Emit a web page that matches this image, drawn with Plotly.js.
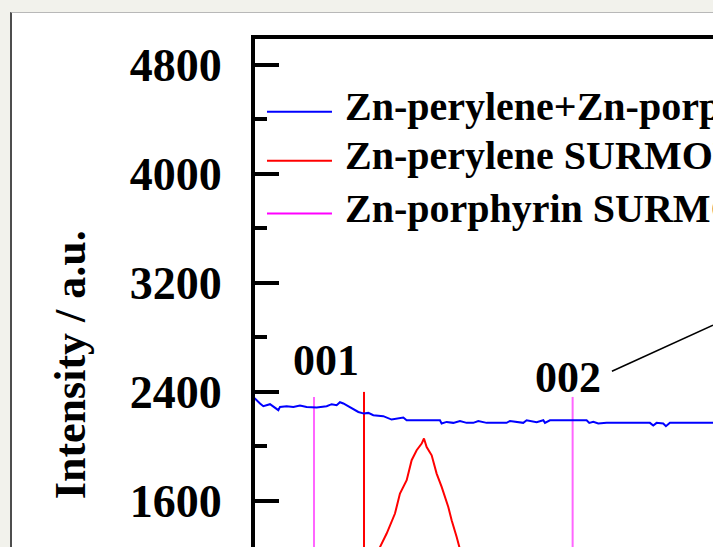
<!DOCTYPE html>
<html>
<head>
<meta charset="utf-8">
<script src="https://cdn.plot.ly/plotly-3.0.1.min.js"></script>
<style>
  html, body { margin:0; padding:0; background:#f2f2ec; width:713px; height:547px; overflow:hidden; }
  #panel { position:absolute; left:10px; top:12px; width:703px; height:535px; background:#ffffff;
           border-left:2px solid #4d4d4d; border-top:1px solid #b8b8b8; }
  #chart { position:absolute; left:0; top:0; width:713px; height:547px; }
</style>
</head>
<body>
<div id="panel"></div>
<div id="chart"></div>
<script>
// ---- data (2θ / deg, intensity / a.u.) ----
const blueName = "Zn-perylene+Zn-porphyrin SURMOF";
const redName = "Zn-perylene SURMOF";
const pinkName = "Zn-porphyrin SURMOF";

const blueX = [3.932,4.000,4.103,4.171,4.308,4.376,4.479,4.513,4.650,4.787,4.923,5.060,5.265,5.471,5.573,5.676,5.744,5.813,5.915,6.018,6.121,6.237,6.326,6.428,6.633,6.804,7.044,7.112,7.796,7.830,7.933,8.070,8.207,8.343,8.480,8.583,8.754,9.164,9.233,9.506,9.575,9.780,9.917,9.951,10.053,10.532,10.806,10.861,10.943,11.045,11.216,12.105,12.174,12.242,12.379,12.434,12.516,13.405];
const blueY = [2344,2351,2315,2295,2310,2295,2266,2290,2295,2290,2300,2290,2285,2295,2310,2302,2324,2315,2295,2278,2253,2241,2246,2229,2222,2197,2212,2192,2192,2168,2180,2173,2187,2173,2173,2187,2173,2173,2187,2173,2192,2178,2192,2173,2192,2192,2192,2173,2180,2168,2173,2173,2153,2173,2168,2148,2173,2173];

const redX = [6.40,6.565,6.702,6.873,6.975,7.113,7.215,7.318,7.421,7.468,7.523,7.626,7.728,7.831,7.967,8.036,8.139,8.192,8.30];
const redY = [1100,1262,1361,1508,1654,1752,1899,1972,2021,2058,1996,1935,1801,1703,1556,1458,1336,1262,1120];

// reference reflections (sticks)
const redStickX = [6.237];
const redStickTop = [2400];
const pinkStickX = [5.211, 10.519];
const pinkStickTop = [2363, 2363];
const stickBase = 1000;

const peakLabels = ["001", "002"];
const peakLabelX = [5.457, 10.42];
const peakLabelY = [2633, 2508];

const yTickStep = 800;

// ---- build ----
function sticks(xs, tops) {
  const x = [], y = [];
  xs.forEach((v, i) => { x.push(v, v, null); y.push(stickBase, tops[i], null); });
  return {x, y};
}
const rs = sticks(redStickX, redStickTop);
const ps = sticks(pinkStickX, pinkStickTop);

const serif = {family: "Liberation Serif, 'Times New Roman', serif", color: "#000", weight: "bold"};

const traces = [
  {x: ps.x, y: ps.y, mode: "lines", name: pinkName, line: {color: "#ff66ff", width: 2}, showlegend: false},
  {x: rs.x, y: rs.y, mode: "lines", name: redName, line: {color: "#ff0000", width: 2}, showlegend: false},
  {x: redX, y: redY, mode: "lines", name: redName, line: {color: "#ff0000", width: 2}, showlegend: false},
  {x: blueX, y: blueY, mode: "lines", name: blueName, line: {color: "#0000ff", width: 2}, showlegend: false}
];

const legendItems = [
  {name: blueName, color: "#0000ff", y: 4455},
  {name: redName, color: "#ff0000", y: 4095},
  {name: pinkName, color: "#ff00ff", y: 3709}
];

const shapes = legendItems.map(it => ({
  type: "line", xref: "x", yref: "y", x0: 4.246, x1: 5.58, y0: it.y, y1: it.y,
  line: {color: it.color, width: 2}
}));
shapes.push({type: "line", xref: "x", yref: "y", x0: 11.326, y0: 2552, x1: 13.4, y1: 2889,
  line: {color: "#000", width: 1.6}});

const annotations = legendItems.map(it => ({
  xref: "x", yref: "y", x: 5.80, y: it.y + 37, text: it.name, showarrow: false,
  xanchor: "left", yanchor: "middle", font: Object.assign({}, serif, {size: 40})
}));
peakLabels.forEach((t, i) => annotations.push({
  xref: "x", yref: "y", x: peakLabelX[i], y: peakLabelY[i], text: t, showarrow: false,
  xanchor: "center", yanchor: "middle", font: Object.assign({}, serif, {size: 44})
}));
annotations.push({
  xref: "paper", yref: "y", x: -0.404, y: 2603, text: "Intensity / a.u.", showarrow: false,
  textangle: -90, xanchor: "center", yanchor: "middle", font: Object.assign({}, serif, {size: 44})
});

const layout = {
  width: 713, height: 547,
  margin: {l: 255, r: 0, t: 39.3, b: 0, pad: 0},
  paper_bgcolor: "rgba(0,0,0,0)", plot_bgcolor: "rgba(0,0,0,0)",
  showlegend: false,
  xaxis: {range: [4, 13.4], showline: true, mirror: true, linewidth: 4, linecolor: "#000",
          showticklabels: false, ticks: "", showgrid: false, zeroline: false},
  yaxis: {range: [1262.4, 4988.6], showline: true, linewidth: 4, linecolor: "#000",
          ticks: "inside", ticklen: 24, tickwidth: 4, tickcolor: "#000",
          tick0: 0, dtick: yTickStep, ticklabelstandoff: 20,
          minor: {ticks: "inside", ticklen: 12, tickwidth: 4, tickcolor: "#000", dtick: yTickStep / 2, tick0: 0, showgrid: false},
          tickfont: Object.assign({}, serif, {size: 46}),
          showgrid: false, zeroline: false},
  shapes: shapes,
  annotations: annotations
};

Plotly.newPlot("chart", traces, layout, {staticPlot: true, displayModeBar: false});
</script>
</body>
</html>
